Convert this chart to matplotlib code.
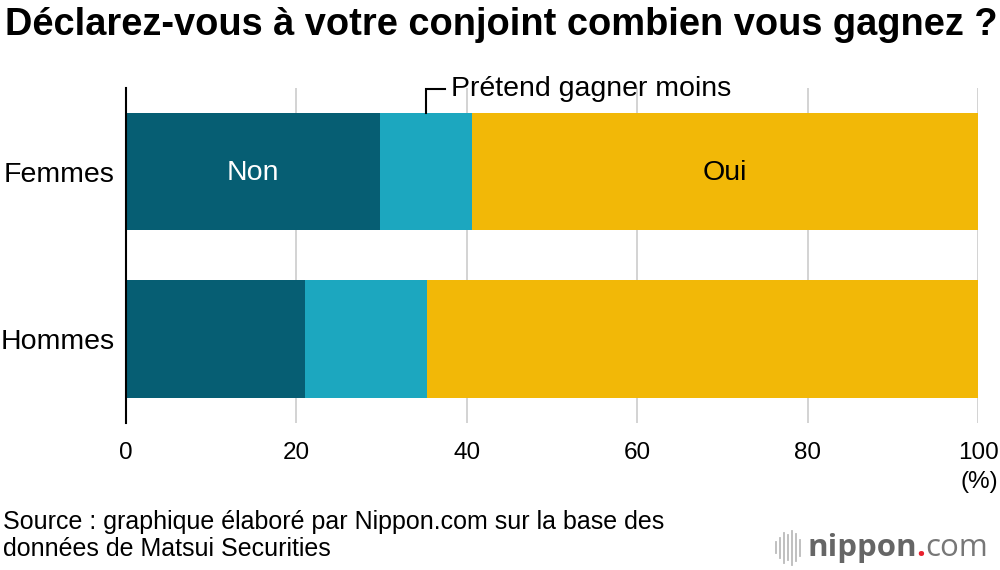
import matplotlib
matplotlib.use("Agg")
import matplotlib.pyplot as plt

plt.rcParams['font.family'] = ['Liberation Sans', 'DejaVu Sans']

# Données
categories = ["Hommes", "Femmes"]
non = [21.0, 29.8]
pretend_moins = [14.3, 10.8]
oui = [64.7, 59.4]
xticks = [0, 20, 40, 60, 80, 100]

c_non = "#065e73"
c_pretend = "#1ca7bf"
c_oui = "#f2b807"

fig = plt.figure(figsize=(10, 5.7), dpi=100)
ax = fig.add_axes([0.126, 0.258, 0.852, 0.588])

y = range(len(categories))
left2 = [a for a in non]
left3 = [a + b for a, b in zip(non, pretend_moins)]
ax.barh(y, non, height=0.70, color=c_non, zorder=3)
ax.barh(y, pretend_moins, left=left2, height=0.70, color=c_pretend, zorder=3)
ax.barh(y, oui, left=left3, height=0.70, color=c_oui, zorder=3)

ax.set_xlim(0, 100)
ax.set_ylim(-0.5, 1.5)
ax.set_xticks(xticks)
ax.set_xticklabels([str(t) for t in xticks], fontsize=17.5)
ax.set_yticks(list(y))
ax.set_yticklabels(categories, fontsize=20.5)
ax.tick_params(axis="x", length=0, pad=14)
ax.tick_params(axis="y", length=0, pad=8)
ax.grid(axis="x", color="#cccccc", linewidth=1.2, zorder=0)
for s in ["top", "right", "bottom"]:
    ax.spines[s].set_visible(False)
ax.spines["left"].set_color("black")
ax.spines["left"].set_linewidth(1.5)
ax.spines["left"].set_zorder(4)

# étiquettes dans les barres
ax.text(non[1] / 2, 0.99, "Non", color="white", fontsize=20.5, ha="center", va="center", zorder=5)
ax.text(left3[1] + oui[1] / 2, 0.99, "Oui", color="black", fontsize=20.5, ha="center", va="center", zorder=5)

# annotation "Prétend gagner moins"
xm = non[1] + pretend_moins[1] / 2
ax.plot([xm, xm, xm + 2.2], [1.35, 1.49, 1.49], color="black", linewidth=1.5,
        clip_on=False, zorder=5, solid_joinstyle="miter")
ax.text(xm + 3.0, 1.49, "Prétend gagner moins", fontsize=20.5, ha="left", va="center")

fig.text(0.998, 0.155, "(%)", fontsize=17.5, ha="right", va="center")

fig.text(0.005, 0.956, "Déclarez-vous à votre conjoint combien vous gagnez ?",
         fontsize=27.4, fontweight="bold", ha="left", va="center")

fig.text(0.003, 0.06, "Source : graphique élaboré par Nippon.com sur la base des\ndonnées de Matsui Securities",
         fontsize=18, ha="left", va="center", linespacing=1.15)

# logo nippon.com
for i, h in enumerate([0.010, 0.018, 0.026, 0.022, 0.030, 0.024, 0.014]):
    xx = 0.776 + i * 0.004
    fig.add_artist(plt.Line2D([xx, xx], [0.039 - h, 0.039 + h], color="#bbbbbb", linewidth=1.3))
t1 = fig.text(0.807, 0.039, "nippon", fontsize=22.5, fontweight="bold", color="#666666",
              ha="left", va="center", family="Open Sans")
fig.canvas.draw()
bb = t1.get_window_extent().transformed(fig.transFigure.inverted())
t2 = fig.text(bb.x1, 0.039, ".", fontsize=22.5, fontweight="bold", color="#e8212e",
              ha="left", va="center", family="Open Sans")
bb2 = t2.get_window_extent().transformed(fig.transFigure.inverted())
fig.text(bb2.x1, 0.039, "com", fontsize=22.5, color="#777777",
         ha="left", va="center", family="Open Sans")

fig.savefig("out.png", dpi=100)
